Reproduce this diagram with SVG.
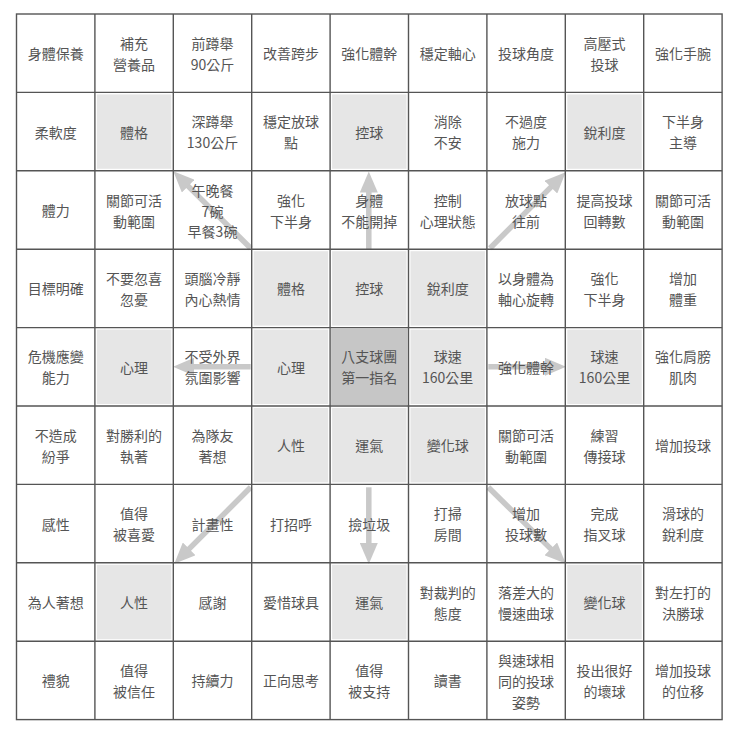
<svg xmlns="http://www.w3.org/2000/svg" width="740" height="739" viewBox="0 0 740 739">
<style>
text{font-family:"Noto Sans CJK TC","Noto Sans CJK SC",sans-serif;font-size:14px;fill:#555;text-anchor:middle;dominant-baseline:central}
.s{fill:#e6e6e6}
.d{fill:#c6c6c6}
.g{stroke:#555;stroke-width:1.4;fill:none}
.a{stroke:#c9c9c9;stroke-width:5.5;fill:none;marker-end:url(#ah)}
</style>
<defs>
<marker id="ah" markerUnits="userSpaceOnUse" markerWidth="22" markerHeight="18" refX="10" refY="9" orient="auto" viewBox="0 0 22 18">
<path d="M0,0 L21,9 L0,18 z" fill="#c9c9c9"/>
</marker>
</defs>
<rect width="740" height="739" fill="#fff"/>
<g id="connectors">
<line class="a" x1="250.7" y1="248.3" x2="181.1" y2="179.1"/>
<line class="a" x1="368.8" y1="249" x2="368.8" y2="182.5"/>
<line class="a" x1="490" y1="248.3" x2="557.9" y2="180.1"/>
<line class="a" x1="250.7" y1="366.8" x2="184" y2="366.8"/>
<line class="a" x1="488.3" y1="366.8" x2="555" y2="366.8"/>
<line class="a" x1="250.7" y1="487.3" x2="182.1" y2="555.9"/>
<line class="a" x1="368.8" y1="487.3" x2="368.8" y2="553"/>
<line class="a" x1="488.3" y1="487.3" x2="557.9" y2="555.9"/>
</g>
<!-- row 0 -->
<g id="n-r0c0"><text x="55.7" y="53.2">身體保養</text></g>
<g id="n-r0c1"><text><tspan x="134.1" y="42.7">補充</tspan><tspan x="134.1" y="63.7">營養品</tspan></text></g>
<g id="n-r0c2"><text><tspan x="212.5" y="42.7">前蹲舉</tspan><tspan x="212.5" y="63.7">90公斤</tspan></text></g>
<g id="n-r0c3"><text x="290.9" y="53.2">改善跨步</text></g>
<g id="n-r0c4"><text x="369.3" y="53.2">強化體幹</text></g>
<g id="n-r0c5"><text x="447.7" y="53.2">穩定軸心</text></g>
<g id="n-r0c6"><text x="526.1" y="53.2">投球角度</text></g>
<g id="n-r0c7"><text><tspan x="604.5" y="42.7">高壓式</tspan><tspan x="604.5" y="63.7">投球</tspan></text></g>
<g id="n-r0c8"><text x="682.9" y="53.2">強化手腕</text></g>
<!-- row 1 -->
<g id="n-r1c0"><text x="55.7" y="131.6">柔軟度</text></g>
<g id="n-r1c1"><rect class="s" x="96.9" y="94.4" width="74.4" height="74.4"/><text x="134.1" y="131.6">體格</text></g>
<g id="n-r1c2"><text><tspan x="212.5" y="121.1">深蹲舉</tspan><tspan x="212.5" y="142.1">130公斤</tspan></text></g>
<g id="n-r1c3"><text><tspan x="290.9" y="121.1">穩定放球</tspan><tspan x="290.9" y="142.1">點</tspan></text></g>
<g id="n-r1c4"><rect class="s" x="332.1" y="94.4" width="74.4" height="74.4"/><text x="369.3" y="131.6">控球</text></g>
<g id="n-r1c5"><text><tspan x="447.7" y="121.1">消除</tspan><tspan x="447.7" y="142.1">不安</tspan></text></g>
<g id="n-r1c6"><text><tspan x="526.1" y="121.1">不過度</tspan><tspan x="526.1" y="142.1">施力</tspan></text></g>
<g id="n-r1c7"><rect class="s" x="567.3" y="94.4" width="74.4" height="74.4"/><text x="604.5" y="131.6">銳利度</text></g>
<g id="n-r1c8"><text><tspan x="682.9" y="121.1">下半身</tspan><tspan x="682.9" y="142.1">主導</tspan></text></g>
<!-- row 2 -->
<g id="n-r2c0"><text x="55.7" y="210">體力</text></g>
<g id="n-r2c1"><text><tspan x="134.1" y="199.5">關節可活</tspan><tspan x="134.1" y="220.5">動範圍</tspan></text></g>
<g id="n-r2c2"><text><tspan x="212.5" y="190">午晚餐</tspan><tspan x="212.5" y="210.5">7碗</tspan><tspan x="212.5" y="231">早餐3碗</tspan></text></g>
<g id="n-r2c3"><text><tspan x="290.9" y="199.5">強化</tspan><tspan x="290.9" y="220.5">下半身</tspan></text></g>
<g id="n-r2c4"><text><tspan x="369.3" y="199.5">身體</tspan><tspan x="369.3" y="220.5">不能開掉</tspan></text></g>
<g id="n-r2c5"><text><tspan x="447.7" y="199.5">控制</tspan><tspan x="447.7" y="220.5">心理狀態</tspan></text></g>
<g id="n-r2c6"><text><tspan x="526.1" y="199.5">放球點</tspan><tspan x="526.1" y="220.5">往前</tspan></text></g>
<g id="n-r2c7"><text><tspan x="604.5" y="199.5">提高投球</tspan><tspan x="604.5" y="220.5">回轉數</tspan></text></g>
<g id="n-r2c8"><text><tspan x="682.9" y="199.5">關節可活</tspan><tspan x="682.9" y="220.5">動範圍</tspan></text></g>
<!-- row 3 -->
<g id="n-r3c0"><text x="55.7" y="288.4">目標明確</text></g>
<g id="n-r3c1"><text><tspan x="134.1" y="277.9">不要忽喜</tspan><tspan x="134.1" y="298.9">忽憂</tspan></text></g>
<g id="n-r3c2"><text><tspan x="212.5" y="277.9">頭腦冷靜</tspan><tspan x="212.5" y="298.9">內心熱情</tspan></text></g>
<g id="n-r3c3"><rect class="s" x="253.7" y="251.2" width="74.4" height="74.4"/><text x="290.9" y="288.4">體格</text></g>
<g id="n-r3c4"><rect class="s" x="332.1" y="251.2" width="74.4" height="74.4"/><text x="369.3" y="288.4">控球</text></g>
<g id="n-r3c5"><rect class="s" x="410.5" y="251.2" width="74.4" height="74.4"/><text x="447.7" y="288.4">銳利度</text></g>
<g id="n-r3c6"><text><tspan x="526.1" y="277.9">以身體為</tspan><tspan x="526.1" y="298.9">軸心旋轉</tspan></text></g>
<g id="n-r3c7"><text><tspan x="604.5" y="277.9">強化</tspan><tspan x="604.5" y="298.9">下半身</tspan></text></g>
<g id="n-r3c8"><text><tspan x="682.9" y="277.9">增加</tspan><tspan x="682.9" y="298.9">體重</tspan></text></g>
<!-- row 4 -->
<g id="n-r4c0"><text><tspan x="55.7" y="356.3">危機應變</tspan><tspan x="55.7" y="377.3">能力</tspan></text></g>
<g id="n-r4c1"><rect class="s" x="96.9" y="329.6" width="74.4" height="74.4"/><text x="134.1" y="366.8">心理</text></g>
<g id="n-r4c2"><text><tspan x="212.5" y="356.3">不受外界</tspan><tspan x="212.5" y="377.3">氛圍影響</tspan></text></g>
<g id="n-r4c3"><rect class="s" x="253.7" y="329.6" width="74.4" height="74.4"/><text x="290.9" y="366.8">心理</text></g>
<g id="n-r4c4"><rect class="d" x="331.1" y="328.6" width="76.4" height="76.4"/><text><tspan x="369.3" y="356.3">八支球團</tspan><tspan x="369.3" y="377.3">第一指名</tspan></text></g>
<g id="n-r4c5"><rect class="s" x="410.5" y="329.6" width="74.4" height="74.4"/><text><tspan x="447.7" y="356.3">球速</tspan><tspan x="447.7" y="377.3">160公里</tspan></text></g>
<g id="n-r4c6"><text x="526.1" y="366.8">強化體幹</text></g>
<g id="n-r4c7"><rect class="s" x="567.3" y="329.6" width="74.4" height="74.4"/><text><tspan x="604.5" y="356.3">球速</tspan><tspan x="604.5" y="377.3">160公里</tspan></text></g>
<g id="n-r4c8"><text><tspan x="682.9" y="356.3">強化肩膀</tspan><tspan x="682.9" y="377.3">肌肉</tspan></text></g>
<!-- row 5 -->
<g id="n-r5c0"><text><tspan x="55.7" y="434.7">不造成</tspan><tspan x="55.7" y="455.7">紛爭</tspan></text></g>
<g id="n-r5c1"><text><tspan x="134.1" y="434.7">對勝利的</tspan><tspan x="134.1" y="455.7">執著</tspan></text></g>
<g id="n-r5c2"><text><tspan x="212.5" y="434.7">為隊友</tspan><tspan x="212.5" y="455.7">著想</tspan></text></g>
<g id="n-r5c3"><rect class="s" x="253.7" y="408" width="74.4" height="74.4"/><text x="290.9" y="445.2">人性</text></g>
<g id="n-r5c4"><rect class="s" x="332.1" y="408" width="74.4" height="74.4"/><text x="369.3" y="445.2">運氣</text></g>
<g id="n-r5c5"><rect class="s" x="410.5" y="408" width="74.4" height="74.4"/><text x="447.7" y="445.2">變化球</text></g>
<g id="n-r5c6"><text><tspan x="526.1" y="434.7">關節可活</tspan><tspan x="526.1" y="455.7">動範圍</tspan></text></g>
<g id="n-r5c7"><text><tspan x="604.5" y="434.7">練習</tspan><tspan x="604.5" y="455.7">傳接球</tspan></text></g>
<g id="n-r5c8"><text x="682.9" y="445.2">增加投球</text></g>
<!-- row 6 -->
<g id="n-r6c0"><text x="55.7" y="523.6">感性</text></g>
<g id="n-r6c1"><text><tspan x="134.1" y="513.1">值得</tspan><tspan x="134.1" y="534.1">被喜愛</tspan></text></g>
<g id="n-r6c2"><text x="212.5" y="523.6">計畫性</text></g>
<g id="n-r6c3"><text x="290.9" y="523.6">打招呼</text></g>
<g id="n-r6c4"><text x="369.3" y="523.6">撿垃圾</text></g>
<g id="n-r6c5"><text><tspan x="447.7" y="513.1">打掃</tspan><tspan x="447.7" y="534.1">房間</tspan></text></g>
<g id="n-r6c6"><text><tspan x="526.1" y="513.1">增加</tspan><tspan x="526.1" y="534.1">投球數</tspan></text></g>
<g id="n-r6c7"><text><tspan x="604.5" y="513.1">完成</tspan><tspan x="604.5" y="534.1">指叉球</tspan></text></g>
<g id="n-r6c8"><text><tspan x="682.9" y="513.1">滑球的</tspan><tspan x="682.9" y="534.1">銳利度</tspan></text></g>
<!-- row 7 -->
<g id="n-r7c0"><text x="55.7" y="602">為人著想</text></g>
<g id="n-r7c1"><rect class="s" x="96.9" y="564.8" width="74.4" height="74.4"/><text x="134.1" y="602">人性</text></g>
<g id="n-r7c2"><text x="212.5" y="602">感謝</text></g>
<g id="n-r7c3"><text x="290.9" y="602">愛惜球具</text></g>
<g id="n-r7c4"><rect class="s" x="332.1" y="564.8" width="74.4" height="74.4"/><text x="369.3" y="602">運氣</text></g>
<g id="n-r7c5"><text><tspan x="447.7" y="591.5">對裁判的</tspan><tspan x="447.7" y="612.5">態度</tspan></text></g>
<g id="n-r7c6"><text><tspan x="526.1" y="591.5">落差大的</tspan><tspan x="526.1" y="612.5">慢速曲球</tspan></text></g>
<g id="n-r7c7"><rect class="s" x="567.3" y="564.8" width="74.4" height="74.4"/><text x="604.5" y="602">變化球</text></g>
<g id="n-r7c8"><text><tspan x="682.9" y="591.5">對左打的</tspan><tspan x="682.9" y="612.5">決勝球</tspan></text></g>
<!-- row 8 -->
<g id="n-r8c0"><text x="55.7" y="680.4">禮貌</text></g>
<g id="n-r8c1"><text><tspan x="134.1" y="669.9">值得</tspan><tspan x="134.1" y="690.9">被信任</tspan></text></g>
<g id="n-r8c2"><text x="212.5" y="680.4">持續力</text></g>
<g id="n-r8c3"><text x="290.9" y="680.4">正向思考</text></g>
<g id="n-r8c4"><text><tspan x="369.3" y="669.9">值得</tspan><tspan x="369.3" y="690.9">被支持</tspan></text></g>
<g id="n-r8c5"><text x="447.7" y="680.4">讀書</text></g>
<g id="n-r8c6"><text><tspan x="526.1" y="659.9">與速球相</tspan><tspan x="526.1" y="680.9">同的投球</tspan><tspan x="526.1" y="701.9">姿勢</tspan></text></g>
<g id="n-r8c7"><text><tspan x="604.5" y="669.9">投出很好</tspan><tspan x="604.5" y="690.9">的壞球</tspan></text></g>
<g id="n-r8c8"><text><tspan x="682.9" y="669.9">增加投球</tspan><tspan x="682.9" y="690.9">的位移</tspan></text></g>
<g id="grid" class="g">
<rect x="16.5" y="14" width="705.6" height="705.6"/>
<path d="M94.9,14V719.6M173.3,14V719.6M251.7,14V719.6M330.1,14V719.6M408.5,14V719.6M486.9,14V719.6M565.3,14V719.6M643.7,14V719.6M16.5,92.4H722.1M16.5,170.8H722.1M16.5,249.2H722.1M16.5,327.6H722.1M16.5,406H722.1M16.5,484.4H722.1M16.5,562.8H722.1M16.5,641.2H722.1"/>
</g>
</svg>
